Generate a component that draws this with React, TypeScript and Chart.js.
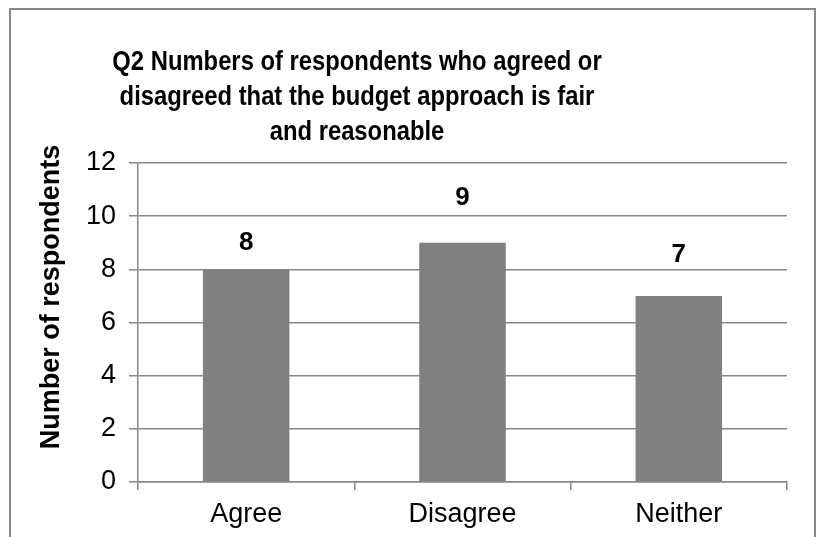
import React, { useEffect, useRef } from "react";
import { Chart, registerables } from "chart.js";

Chart.register(...registerables);

// ---- data ----
const categories = ["Agree", "Disagree", "Neither"];
const respondents = [8, 9, 7];
const yTickValues = [0, 2, 4, 6, 8, 10, 12];
const titleLines = [
  "Q2 Numbers of respondents who agreed or",
  "disagreed that the budget approach is fair",
  "and reasonable",
];
const yAxisTitle = "Number of respondents";

// ---- styling / layout config ----
const FONT = '"Liberation Sans", Arial, sans-serif';
const TITLE_FONT = `bold 28px ${FONT}`;
const TITLE_SQUEEZE = 0.85; // the reference title face is condensed
const GRID = "#878787";
const BAR = "#808080";
const labelOffsets = [27, 45, 41]; // px from bar top to label centre, per bar

const decorPlugin = {
  id: "decor",
  beforeDraw(chart: any) {
    const ctx = chart.ctx;
    ctx.save();
    ctx.fillStyle = "#ffffff";
    ctx.fillRect(0, 0, chart.width, chart.height);
    ctx.restore();
  },
  afterDraw(chart: any) {
    const ctx = chart.ctx;
    ctx.save();
    // outer chart border
    ctx.strokeStyle = GRID;
    ctx.lineWidth = 2;
    ctx.strokeRect(10, 9, 805, 600);

    // title
    ctx.fillStyle = "#000";
    ctx.font = TITLE_FONT;
    ctx.textAlign = "center";
    ctx.textBaseline = "middle";
    titleLines.forEach((line, i) => {
      ctx.save();
      ctx.translate(357, 62 + i * 35);
      ctx.scale(TITLE_SQUEEZE, 1);
      ctx.fillText(line, 0, 0);
      ctx.restore();
    });

    // y axis title
    ctx.save();
    ctx.translate(52, 297);
    ctx.rotate(-Math.PI / 2);
    ctx.font = `bold 27px ${FONT}`;
    ctx.fillText(yAxisTitle, 0, 0);
    ctx.restore();

    // data labels
    const meta = chart.getDatasetMeta(0);
    ctx.font = `bold 26px ${FONT}`;
    meta.data.forEach((bar: any, i: number) => {
      ctx.fillText(String(respondents[i]), bar.x, bar.y - labelOffsets[i]);
    });
    ctx.restore();
  },
};

export default function App() {
  const ref = useRef<HTMLCanvasElement | null>(null);
  useEffect(() => {
    if (!ref.current) return;
    const chart = new Chart(ref.current, {
      type: "bar",
      data: {
        labels: categories,
        datasets: [
          {
            data: respondents,
            backgroundColor: BAR,
            borderWidth: 0,
            barPercentage: 0.4,
            categoryPercentage: 1,
          },
        ],
      },
      options: {
        animation: false,
        responsive: false,
        devicePixelRatio: 1,
        layout: { padding: { left: 0, top: 163, right: 33, bottom: 0 } },
        plugins: {
          legend: { display: false },
          title: { display: false },
          tooltip: { enabled: false },
        },
        scales: {
          x: {
            afterFit: (s: any) => {
              s.height = 55;
            },
            grid: {
              offset: true,
              drawOnChartArea: false,
              drawTicks: true,
              tickLength: 8,
              color: GRID,
              lineWidth: 1.5,
            },
            border: { color: GRID, width: 1.5 },
            ticks: {
              color: "#000",
              font: { family: FONT, size: 27 },
              padding: 8,
            },
          },
          y: {
            min: 0,
            max: 12,
            afterFit: (s: any) => {
              s.width = 138;
            },
            afterBuildTicks: (s: any) => {
              s.ticks = yTickValues.map((v) => ({ value: v }));
            },
            grid: {
              color: GRID,
              lineWidth: 1.5,
              tickLength: 9,
            },
            border: { color: GRID, width: 1.5 },
            ticks: {
              color: "#000",
              font: { family: FONT, size: 27 },
              padding: 13,
            },
          },
        },
      },
      plugins: [decorPlugin],
    });
    return () => chart.destroy();
  }, []);
  return (
    <div style={{ position: "absolute", left: 0, top: 0, width: 820, height: 537 }}>
      <canvas ref={ref} width={820} height={537} />
    </div>
  );
}
